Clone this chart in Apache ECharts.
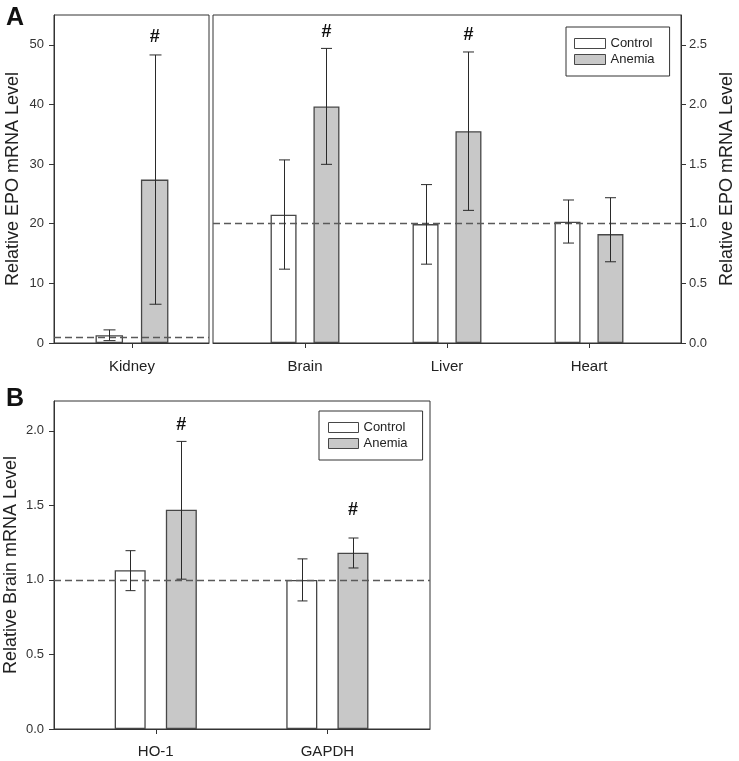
<!DOCTYPE html>
<html><head><meta charset="utf-8">
<script src="https://cdn.jsdelivr.net/npm/echarts@6/dist/echarts.min.js"></script>
<style>html,body{margin:0;padding:0;background:#fff}#c{width:739px;height:761px}</style>
</head><body><div id="c"></div>
<script>
// ---------- Panel A (left): Kidney ----------
const kidneyCategories = ['Kidney'];
const kidneyControl = [1.3];
const kidneyControlLow = [0.4];
const kidneyControlHigh = [2.2];
const kidneyAnemia = [27.4];
const kidneyAnemiaLow = [6.5];
const kidneyAnemiaHigh = [48.3];
const kidneyHash = [51.3];           // '#' annotation level above anemia bar
const kidneyTicks = [0, 10, 20, 30, 40, 50];

// ---------- Panel A (right): Brain / Liver / Heart ----------
const organCategories = ['Brain', 'Liver', 'Heart'];
const organControl = [1.076, 0.997, 1.017];
const organControlLow = [0.619, 0.661, 0.838];
const organControlHigh = [1.535, 1.328, 1.199];
const organAnemia = [1.983, 1.776, 0.913];
const organAnemiaLow = [1.498, 1.112, 0.681];
const organAnemiaHigh = [2.470, 2.440, 1.218];
const organHash = [2.607, 2.586, null];
const organTicks = [0, 0.5, 1.0, 1.5, 2.0, 2.5];

// ---------- Panel B: HO-1 / GAPDH ----------
const geneCategories = ['HO-1', 'GAPDH'];
const geneControl = [1.065, 1.0];
const geneControlLow = [0.928, 0.859];
const geneControlHigh = [1.196, 1.141];
const geneAnemia = [1.471, 1.183];
const geneAnemiaLow = [1.005, 1.080];
const geneAnemiaHigh = [1.929, 1.281];
const geneHash = [2.04, 1.467];
const geneTicks = [0, 0.5, 1.0, 1.5, 2.0];

const referenceLevel = 1.0;

// ---------- styling ----------
const FONT = "'Liberation Sans', Arial, sans-serif";
const AX = '#333';
const CTRL_FILL = '#ffffff';
const ANEM_FILL = '#c8c8c8';
const BAR_BORDER = '#474747';
const GAP = 0.65;

const chart = echarts.init(document.getElementById('c'), null, {renderer: 'canvas'});

function pairs(arr) { return arr.map((v, i) => [i, v]); }

function errSeries(name, gi, lows, highs, offset, cap) {
  return {
    type: 'custom', name: name + '_err', xAxisIndex: gi, yAxisIndex: gi, z: 5, silent: true,
    data: lows.map((lo, i) => [i, lo, highs[i]]),
    encode: {x: 0, y: [1, 2]},
    renderItem: function (params, api) {
      const x = api.value(0);
      const pTop = api.coord([x, api.value(2)]);
      const pBot = api.coord([x, api.value(1)]);
      const cx = Math.round(pTop[0] + offset) + 0.5;
      const st = {stroke: '#2a2a2a', lineWidth: 1};
      return {type: 'group', children: [
        {type: 'line', shape: {x1: cx, y1: pTop[1], x2: cx, y2: pBot[1]}, style: st},
        {type: 'line', shape: {x1: cx - cap / 2, y1: pTop[1], x2: cx + cap / 2, y2: pTop[1]}, style: st},
        {type: 'line', shape: {x1: cx - cap / 2, y1: pBot[1], x2: cx + cap / 2, y2: pBot[1]}, style: st}
      ]};
    }
  };
}

function hashSeries(gi, levels, offset) {
  const d = [];
  levels.forEach((v, i) => { if (v !== null) d.push([i, v]); });
  return {
    type: 'custom', name: 'hash', xAxisIndex: gi, yAxisIndex: gi, z: 6, silent: true,
    data: d, encode: {x: 0, y: 1},
    renderItem: function (params, api) {
      const p = api.coord([api.value(0), api.value(1)]);
      return {type: 'text', x: p[0] + offset, y: p[1],
        style: {text: '#', fill: '#111', font: 'bold 18px ' + FONT, align: 'center', verticalAlign: 'middle'}};
    }
  };
}

function barSeries(name, gi, values, fill, width, withMark) {
  const s = {
    type: 'bar', name: name, xAxisIndex: gi, yAxisIndex: gi, data: pairs(values),
    barWidth: width, barGap: (GAP * 100) + '%', z: 2,
    itemStyle: {color: fill, borderColor: BAR_BORDER, borderWidth: 1.3},
    emphasis: {disabled: true}, animation: false
  };
  if (withMark) {
    s.markLine = {silent: true, symbol: 'none', label: {show: false}, animation: false,
      lineStyle: {color: '#5a5a5a', type: [7, 4], width: 1.3}, data: [{yAxis: referenceLevel}]};
  }
  return s;
}

function offsets(width) { const d = width * (1 + GAP) / 2; return [-d, d]; }

function xAxisDef(gi, cats, min, max, margin) {
  const vals = cats.map((c, i) => i);
  return {
    type: 'value', gridIndex: gi, min: min, max: max,
    axisLine: {show: true, onZero: false, lineStyle: {color: AX, width: 1}},
    axisTick: {show: true, inside: false, length: 5, customValues: vals, lineStyle: {color: AX}},
    axisLabel: {show: true, customValues: vals, margin: margin, color: '#222', fontSize: 15, fontFamily: FONT,
      formatter: v => cats[Math.round(v)]},
    splitLine: {show: false}
  };
}

function yAxisDef(gi, max, ticks, pos, name, gap, fmt, margin) {
  return {
    type: 'value', gridIndex: gi, min: 0, max: max, position: pos,
    name: name, nameLocation: 'middle', nameGap: gap, nameMoveOverlap: false,
    nameTextStyle: {fontSize: 18, fontFamily: FONT, color: '#222'},
    axisLine: {show: true, onZero: false, lineStyle: {color: AX, width: 1}},
    axisTick: {show: true, inside: false, length: 5, customValues: ticks, lineStyle: {color: AX}},
    axisLabel: {show: true, customValues: ticks, margin: margin, color: '#333', fontSize: 13, fontFamily: FONT, formatter: fmt},
    splitLine: {show: false}
  };
}

const gridBase = {show: true, borderColor: AX, borderWidth: 1, backgroundColor: 'transparent', containLabel: false, outerBoundsMode: 'none'};

const wK = 27.5, wO = 26, wG = 31;
const oK = offsets(wK), oO = offsets(wO), oG = offsets(wG);

const legendBase = {
  orient: 'vertical', icon: 'rect', itemWidth: 31, itemHeight: 10, itemGap: 3,
  selectedMode: false, borderColor: '#333', borderWidth: 1, backgroundColor: '#fff',
  itemStyle: {borderWidth: 1, borderColor: BAR_BORDER},
  textStyle: {fontSize: 13, fontFamily: FONT, color: '#222'},
  data: ['Control', 'Anemia']
};

const option = {
  animation: false,
  backgroundColor: '#fff',
  title: [
    {text: 'A', left: 1, top: 1, textStyle: {fontSize: 25, fontWeight: 'bold', fontFamily: FONT, color: '#111'}},
    {text: 'B', left: 1, top: 382, textStyle: {fontSize: 25, fontWeight: 'bold', fontFamily: FONT, color: '#111'}}
  ],
  legend: [
    Object.assign({}, legendBase, {left: 566, top: 27, padding: [10, 15, 10, 8]}),
    Object.assign({}, legendBase, {left: 319, top: 411, itemWidth: 30, padding: [10, 15, 10, 9]})
  ],
  grid: [
    Object.assign({}, gridBase, {left: 54, top: 15, width: 155, height: 328}),
    Object.assign({}, gridBase, {left: 213, top: 15, width: 468, height: 328}),
    Object.assign({}, gridBase, {left: 54, top: 401, width: 376, height: 328})
  ],
  xAxis: [
    xAxisDef(0, kidneyCategories, -0.503, 0.497, 16),
    xAxisDef(1, organCategories, -0.648, 2.648, 16),
    xAxisDef(2, geneCategories, -0.593, 1.598, 15)
  ],
  yAxis: [
    yAxisDef(0, 55, kidneyTicks, 'left', 'Relative EPO mRNA Level', 32, v => String(v), 10),
    yAxisDef(1, 2.75, organTicks, 'right', 'Relative EPO mRNA Level', 37, v => v.toFixed(1), 8),
    yAxisDef(2, 2.2, geneTicks, 'left', 'Relative Brain mRNA Level', 34, v => v.toFixed(1), 10)
  ],
  series: [
    barSeries('Control', 0, kidneyControl, CTRL_FILL, wK, true),
    barSeries('Anemia', 0, kidneyAnemia, ANEM_FILL, wK, false),
    errSeries('Control', 0, kidneyControlLow, kidneyControlHigh, oK[0], 12),
    errSeries('Anemia', 0, kidneyAnemiaLow, kidneyAnemiaHigh, oK[1], 12),
    hashSeries(0, kidneyHash, oK[1]),

    barSeries('Control', 1, organControl, CTRL_FILL, wO, true),
    barSeries('Anemia', 1, organAnemia, ANEM_FILL, wO, false),
    errSeries('Control', 1, organControlLow, organControlHigh, oO[0], 11),
    errSeries('Anemia', 1, organAnemiaLow, organAnemiaHigh, oO[1], 11),
    hashSeries(1, organHash, oO[1]),

    barSeries('Control', 2, geneControl, CTRL_FILL, wG, true),
    barSeries('Anemia', 2, geneAnemia, ANEM_FILL, wG, false),
    errSeries('Control', 2, geneControlLow, geneControlHigh, oG[0], 10),
    errSeries('Anemia', 2, geneAnemiaLow, geneAnemiaHigh, oG[1], 10),
    hashSeries(2, geneHash, oG[1])
  ]
};
chart.setOption(option);
</script>
</body></html>
